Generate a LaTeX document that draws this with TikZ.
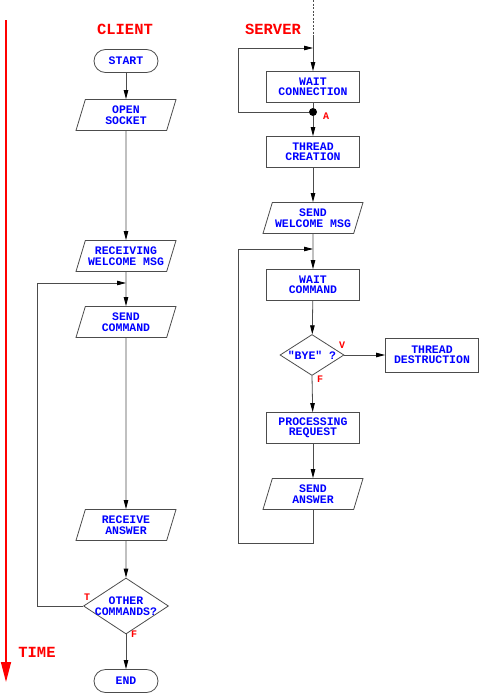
\documentclass[tikz,border=0pt]{standalone}
\usepackage{fontspec}
\setmonofont{Liberation Mono}
\usetikzlibrary{shapes.geometric,arrows.meta}
\begin{document}
\begin{tikzpicture}[x=1pt,y=-1pt,line width=0.8pt,
  lbl/.style={font=\ttfamily\bfseries\fontsize{11.5}{10.5}\selectfont, text=blue, align=center},
  box/.style={lbl, draw=black!70, rectangle, minimum width=93, minimum height=31, inner sep=0},
  io/.style={lbl, draw=black!70, trapezium, trapezium left angle=63, trapezium right angle=117, trapezium stretches body, minimum width=100, minimum height=31, inner sep=0},
  term/.style={lbl, draw=black!70, rectangle, rounded corners=11.5, minimum width=64, minimum height=23, inner sep=0},
  dec/.style={draw=black!70, diamond, inner sep=0},
  arr/.style={draw=black!70, -{Triangle[length=9,width=4.5,color=black]}},
  line/.style={draw=black!70},
  redlbl/.style={font=\ttfamily\bfseries\fontsize{15.5}{16}\selectfont, text=red},
  small/.style={font=\ttfamily\bfseries\fontsize{10}{10}\selectfont, text=red, inner sep=0}
]
\useasboundingbox (0,0) rectangle (480,694);

% time axis
\coordinate (t0) at (6,20);
\coordinate (t1) at (6,682);
\draw[red, line width=1.5, -{Triangle[length=20,width=10]}] (t0) -- (t1);
\node[redlbl] (time) at (37,652) {TIME};
\node[redlbl] (client) at (125,29) {CLIENT};
\node[redlbl] (server) at (273,29) {SERVER};

% client
\node[term] (start) at (126,61) {START};
\node[io] (open) at (126,115) {OPEN\\SOCKET};
\node[io] (recv) at (126,256) {RECEIVING\\WELCOME MSG};
\node[io] (sendc) at (126,322) {SEND\\COMMAND};
\node[io] (reca) at (126,525) {RECEIVE\\ANSWER};
\node[dec, minimum width=85, minimum height=56] (other) at (126,606) {};
\node[lbl] (othert) at (other) {OTHER\\COMMANDS?};
\node[term] (end) at (126,681) {END};
\node[small] (tl) at (87,597) {T};
\node[small] (fl) at (134,634) {F};

\draw[arr] (start) -- (open);
\draw[arr] (open) -- (recv);
\draw[arr] (recv) -- (sendc);
\draw[arr] (sendc) -- (reca);
\draw[arr] (reca) -- (other);
\draw[arr] (other) -- (end);
\coordinate (cl1) at (37,606);
\coordinate (cl2) at (37,283);
\coordinate (cl3) at (126,283);
\draw[line] (other.west) -- (cl1) -- (cl2);
\draw[arr] (cl2) -- (cl3);

% server
\coordinate (stop) at (313,0);
\coordinate (s35) at (313,35);
\draw[line, dash pattern=on 2pt off 1.5pt] (stop) -- (s35);
\node[box] (wc) at (313,87) {WAIT\\CONNECTION};
\draw[arr] (s35) -- (wc);
\node[circle, fill=black, inner sep=0, minimum size=8] (A) at (313,112) {};
\node[small] (al) at (326,116) {A};
\draw[line] (wc) -- (A);
\coordinate (sl1) at (238,112);
\coordinate (sl2) at (238,48);
\coordinate (sl3) at (313,48);
\draw[line] (A) -- (sl1) -- (sl2);
\draw[arr] (sl2) -- (sl3);
\node[box] (tc) at (313,152) {THREAD\\CREATION};
\draw[arr] (A) -- (tc);
\node[io] (swm) at (313,218) {SEND\\WELCOME MSG};
\draw[arr] (tc) -- (swm);
\node[box] (wcmd) at (313,285) {WAIT\\COMMAND};
\draw[arr] (swm) -- (wcmd);
\node[dec, minimum width=64, minimum height=41] (bye) at (312,355) {};
\node[lbl] (byet) at (bye) {"BYE" ?};
\node[small] (vl) at (342,345) {V};
\node[small] (fl2) at (320,379) {F};
\node[box, minimum height=34] (td) at (432,355) {THREAD\\DESTRUCTION};
\draw[arr] (bye.east) -- (td);
\draw[arr] (wcmd) -- (bye);
\node[box] (proc) at (313,428) {PROCESSING\\REQUEST};
\draw[arr] (bye.south) -- (proc);
\node[io] (sa) at (313,494) {SEND\\ANSWER};
\draw[arr] (proc) -- (sa);
\coordinate (b1) at (313,543);
\coordinate (b2) at (238,543);
\coordinate (b3) at (238,249);
\coordinate (b4) at (313,249);
\draw[line] (sa) -- (b1) -- (b2) -- (b3);
\draw[arr] (b3) -- (b4);
\end{tikzpicture}
\end{document}
